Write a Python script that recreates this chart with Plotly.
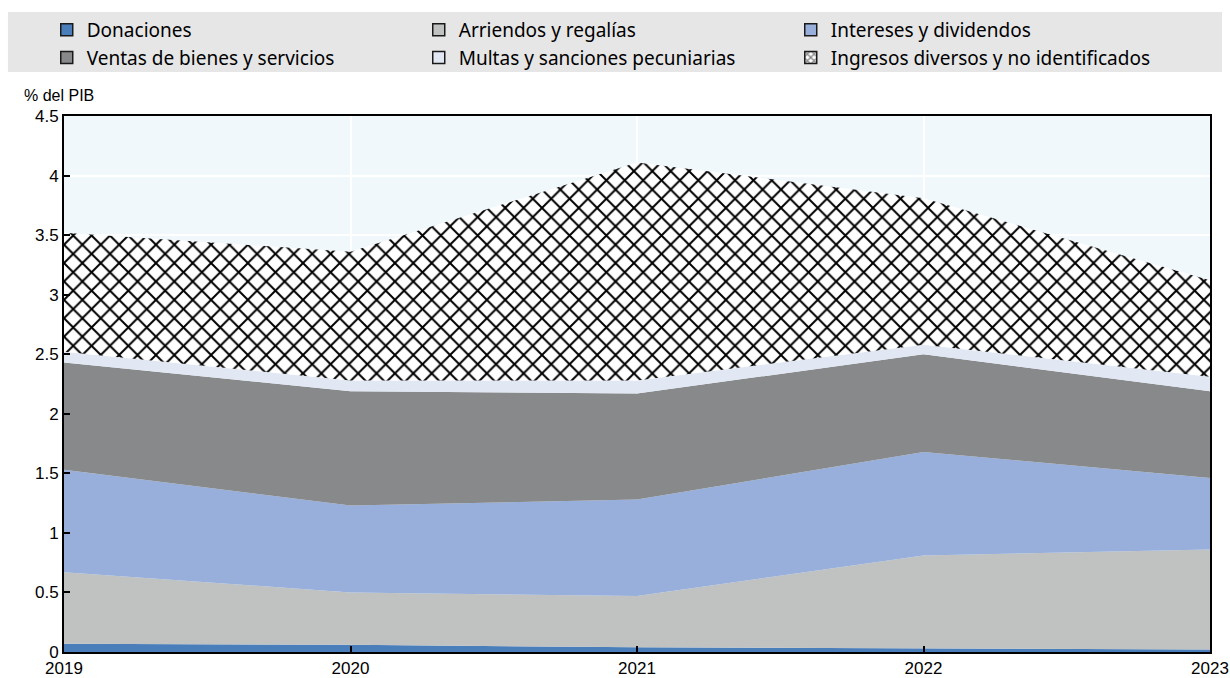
import plotly.graph_objects as go

years = [2019, 2020, 2021, 2022, 2023]
series_names = [
    "Donaciones",
    "Arriendos y regalías",
    "Intereses y dividendos",
    "Ventas de bienes y servicios",
    "Multas y sanciones pecuniarias",
    "Ingresos diversos y no identificados",
]
donaciones = [0.07, 0.06, 0.04, 0.03, 0.02]
arriendos = [0.60, 0.44, 0.43, 0.78, 0.84]
intereses = [0.86, 0.73, 0.81, 0.87, 0.60]
ventas = [0.90, 0.96, 0.89, 0.82, 0.73]
multas = [0.09, 0.09, 0.11, 0.08, 0.12]
diversos = [1.00, 1.08, 1.83, 1.23, 0.81]
y_ticks = [0, 0.5, 1, 1.5, 2, 2.5, 3, 3.5, 4, 4.5]
y_tick_labels = ["0", "0.5", "1", "1.5", "2", "2.5", "3", "3.5", "4", "4.5"]

values = [donaciones, arriendos, intereses, ventas, multas, diversos]
colors = ["#4a7ebb", "#c0c2c1", "#97afda", "#88898b", "#e2e8f3", "#ffffff"]

fig = go.Figure()
for i, (name, vals, col) in enumerate(zip(series_names, values, colors)):
    kw = {}
    if i == 5:
        kw["fillpattern"] = dict(shape="x", fgcolor="black", bgcolor="white",
                                 size=13, solidity=0.28, fgopacity=1)
    fig.add_trace(go.Scatter(
        x=years, y=vals, name=name, mode="lines", stackgroup="one",
        line=dict(width=0, color=col), fillcolor=col, showlegend=False,
        hoverinfo="skip", **kw))

# legend swatches
for i, (name, col) in enumerate(zip(series_names, colors)):
    marker = dict(color=col, line=dict(color="#1a1a1a", width=1.5))
    if i == 5:
        marker["pattern"] = dict(shape="x", fgcolor="black", bgcolor="white",
                                 size=6, solidity=0.45)
    fig.add_trace(go.Bar(x=[None], y=[None], name=name, marker=marker,
                         showlegend=True))

# grey legend background
fig.add_shape(type="rect", xref="paper", yref="paper",
              x0=-0.0489, x1=1.0105, y0=1.082, y1=1.194,
              fillcolor="#e6e6e6", line=dict(width=0), layer="below")

fig.add_annotation(text="% del PIB", xref="paper", yref="paper",
                   x=-0.037, y=1.039, xanchor="left", yanchor="middle",
                   showarrow=False,
                   font=dict(family="Liberation Sans, Arial", size=16, color="black"))

fig.update_layout(
    width=1230, height=678,
    margin=dict(l=64, r=20, t=116, b=26),
    paper_bgcolor="white",
    plot_bgcolor="#f0f8fc",
    font=dict(family="Liberation Sans, Arial", size=17, color="black"),
    barmode="overlay",
    legend=dict(orientation="h", xref="container", yref="container",
                x=0.038, y=0.984, xanchor="left", yanchor="top",
                bgcolor="rgba(0,0,0,0)", entrywidth=327, entrywidthmode="pixels",
                traceorder="normal",
                font=dict(family="Noto Sans", size=19, color="black"),
                tracegroupgap=0, itemwidth=30),
    xaxis=dict(range=[2019, 2023], tickvals=years, ticktext=[str(y) for y in years],
               ticks="inside", ticklen=6, tickcolor="black", tickwidth=1.5,
               showline=True, linecolor="black", linewidth=2, mirror=True,
               showgrid=True, gridcolor="white", gridwidth=1.5, zeroline=False,
               automargin=False),
    yaxis=dict(range=[0, 4.5], tickvals=y_ticks, ticktext=y_tick_labels,
               ticks="inside", ticklen=6, tickcolor="black", tickwidth=1.5,
               showline=True, linecolor="black", linewidth=2, mirror=True,
               showgrid=True, gridcolor="white", gridwidth=1.5, zeroline=False,
               automargin=False),
)

fig.write_html("out.html", config={"displayModeBar": False},
               post_script="document.body.style.margin='0';document.body.style.padding='0';")
